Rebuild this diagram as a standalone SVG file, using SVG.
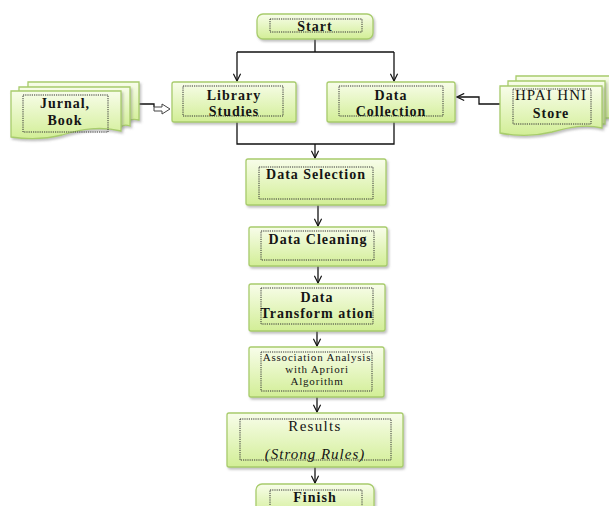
<svg xmlns="http://www.w3.org/2000/svg" width="609" height="506" viewBox="0 0 609 506">
<defs>
<linearGradient id="g" x1="0" y1="0" x2="0" y2="1">
<stop offset="0" stop-color="#f8fdea"/>
<stop offset="1" stop-color="#d2ee96"/>
</linearGradient>
<filter id="sh" x="-10%" y="-10%" width="130%" height="140%">
<feDropShadow dx="1.5" dy="2" stdDeviation="1" flood-color="#777" flood-opacity="0.45"/>
</filter>
<marker id="v" viewBox="0 0 10 10" refX="9" refY="5" markerWidth="9" markerHeight="9" markerUnits="userSpaceOnUse" orient="auto">
<path d="M1,1 L9,5 L1,9" fill="none" stroke="#111" stroke-width="1.3"/>
</marker>
<style>
.box{fill:url(#g);stroke:#a8cc6c;stroke-width:1.3;filter:url(#sh)}
.in{fill:none;stroke:#333;stroke-width:1;stroke-dasharray:1.2 1}
.t{font-family:"Liberation Serif","Times New Roman",serif;font-size:14px;font-weight:bold;fill:#151515;text-anchor:middle;letter-spacing:1px}
.n{font-weight:normal}
.c{fill:none;stroke:#111;stroke-width:1.3}
</style>
</defs>

<g id="connectors">
<path class="c" d="M315,39 V52"/>
<path class="c" d="M237,52 H394"/>
<path class="c" d="M237,52 V81" marker-end="url(#v)"/>
<path class="c" d="M394,52 V81" marker-end="url(#v)"/>
<path class="c" d="M237,122 V144 H394 V122"/>
<path class="c" d="M315,144 V158" marker-end="url(#v)"/>
<path class="c" d="M318,205 V226" marker-end="url(#v)"/>
<path class="c" d="M318,266 V283" marker-end="url(#v)"/>
<path class="c" d="M317,331 V346" marker-end="url(#v)"/>
<path class="c" d="M317,397 V412" marker-end="url(#v)"/>
<path class="c" d="M315,467 V483" marker-end="url(#v)"/>
<path class="c" d="M139,104 H154 V107"/>
<path d="M154,107 H162 V104 L170,109 L162,114 V111 H154 Z" fill="#fff" stroke="#444" stroke-width="1"/>
<path class="c" d="M500,104 H479 V97 H457" marker-end="url(#v)"/>
</g>

<g id="start">
<rect class="box" x="257" y="14" width="116" height="25" rx="6"/>
<rect class="in" x="270" y="19" width="92" height="13"/>
<text class="t" x="315" y="31">Start</text>
</g>

<g id="library">
<rect class="box" x="172" y="82" width="124" height="40" rx="2"/>
<rect class="in" x="183" y="86" width="100" height="30"/>
<text class="t" x="234" y="100">Library</text>
<text class="t" x="234" y="116">Studies</text>
</g>

<g id="collection">
<rect class="box" x="327" y="82" width="128" height="40" rx="2"/>
<rect class="in" x="339" y="86" width="104" height="30"/>
<text class="t" x="391" y="100">Data</text>
<text class="t" x="391" y="116">Collection</text>
</g>

<g id="jurnal">
<path class="box" d="M28,82 H139 V120 C130,118 128,121 125,122 V120 H28 Z"/>
<path class="box" d="M19,87 H130 V126 C124,124 122,126 121,127 V125 H19 Z"/>
<path class="box" d="M11,91 H121 V131 C100,126 82,129 62,135 C42,140 25,139 11,137 Z"/>
<rect class="in" x="23" y="95" width="85" height="37"/>
<text class="t" x="65" y="108">Jurnal,</text>
<text class="t" x="65" y="125">Book</text>
</g>

<g id="hpai">
<path class="box" d="M516,76 H620 V118 H516 Z"/>
<path class="box" d="M508,81 H605 V124 H508 Z"/>
<path class="box" d="M500,86 H602 V128 C585,124 570,127 552,132 C532,137 515,136 500,133 Z"/>
<rect class="in" x="513" y="89" width="78" height="35"/>
<text class="t n" x="551" y="100" style="font-size:15px">HPAI HNI</text>
<text class="t" x="551" y="118">Store</text>
</g>

<g id="selection">
<rect class="box" x="246" y="159" width="140" height="46" rx="2"/>
<rect class="in" x="259" y="167" width="114" height="32"/>
<text class="t" x="316" y="179">Data Selection</text>
</g>

<g id="cleaning">
<rect class="box" x="249" y="227" width="138" height="39" rx="2"/>
<rect class="in" x="261" y="231" width="113" height="29"/>
<text class="t" x="318" y="244">Data Cleaning</text>
</g>

<g id="transformation">
<rect class="box" x="249" y="284" width="136" height="47" rx="2"/>
<rect class="in" x="261" y="288" width="112" height="36"/>
<text class="t" x="317" y="302">Data</text>
<text class="t" x="317" y="318">Transform ation</text>
</g>

<g id="association">
<rect class="box" x="249" y="347" width="135" height="50" rx="2"/>
<rect class="in" x="261" y="352" width="111" height="39"/>
<text class="t n" x="317" y="361" style="font-size:11px;letter-spacing:0.8px">Association Analysis</text>
<text class="t n" x="317" y="373" style="font-size:11px;letter-spacing:0.8px">with Apriori</text>
<text class="t n" x="317" y="385" style="font-size:11px;letter-spacing:0.8px">Algorithm</text>
</g>

<g id="results">
<rect class="box" x="227" y="413" width="176" height="54" rx="2"/>
<rect class="in" x="240" y="419" width="151" height="41"/>
<text class="t n" x="315" y="431" style="font-size:15px;letter-spacing:1.3px">Results</text>
<text class="t n" x="315" y="459" style="font-size:15px;font-style:italic">(Strong Rules)</text>
</g>

<g id="finish">
<rect class="box" x="256" y="484" width="118" height="32" rx="6"/>
<rect class="in" x="270" y="490" width="92" height="20"/>
<text class="t" x="315" y="502">Finish</text>
</g>
</svg>
